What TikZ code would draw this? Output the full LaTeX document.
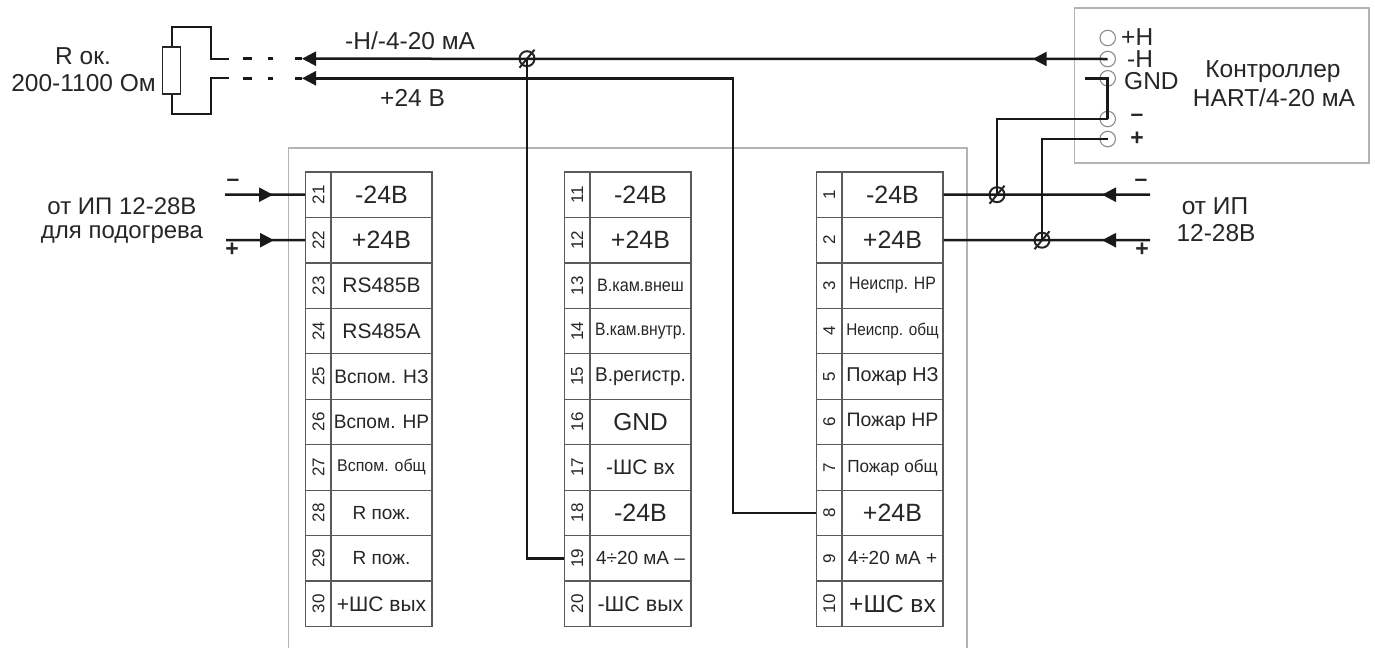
\documentclass[tikz,border=0pt]{standalone}
\usepackage{graphicx}
\usepackage{fontspec}
\setmainfont{Liberation Sans}
\usetikzlibrary{arrows.meta,decorations.markings,calc}
\definecolor{ink}{HTML}{262626}
\definecolor{cellline}{HTML}{5A5A5A}
\definecolor{boxline}{HTML}{B4B4B4}
\definecolor{termline}{HTML}{8C8C8C}
\newcommand{\sz}[1]{\fontsize{#1}{#1}\selectfont}
\tikzset{
  numcell/.style={draw=cellline,line width=1.2,minimum width=25.5,minimum height=45.45,inner sep=0,text=ink},
  labcell/.style={draw=cellline,line width=1.2,minimum width=101,minimum height=45.45,inner sep=0,text=ink},
  wire/.style={line width=2.5,black!90},
  tipend/.style={-{Triangle[length=14,width=14]}},
  midarrow/.style={postaction={decorate},decoration={markings,mark=at position #1 with {\arrow{Triangle[length=14,width=14]}}}},
  terminal/.style={circle,draw=termline,line width=1.1,minimum size=15.5,inner sep=0},
  junction/.style={circle,draw=ink,line width=2,minimum size=15,inner sep=0},
  slash/.style={line width=2,ink},
  grayframe/.style={draw=boxline,line width=1.3},
  txt/.style={text=ink,inner sep=0,align=center},
}
\begin{document}
\begin{tikzpicture}[x=1pt,y=-1pt]
\useasboundingbox (0,0) rectangle (1375,648);
% frames
\draw[grayframe] (288.3,648) -- (288.3,148) -- (967,148) -- (967,648);
\fill[white] (1074.3,8) rectangle (1369,163);
\node[grayframe,minimum width=294.7,minimum height=155,inner sep=0] (ctrl) at (1221.6,85.5) {};
% terminal blocks
\foreach \n/\s/\h/\t [count=\i] in {
 21/25/1/{-24В},22/25/1/{+24В},23/21/1/{RS485B},24/21/1/{RS485A},25/19.5/.98/{Вспом. НЗ},
 26/19.5/.98/{Вспом. НР},27/17/.94/{Вспом. общ},28/19/1/{R пож.},29/19/1/{R пож.},30/21/1/{+ШС вых}}{
  \node[numcell] (n\n) at (318.4,{172+45.45*(\i-.5)}) {\sz{17}\rotatebox{90}{\n}};
  \node[labcell] (l\n) at (381.5,{172+45.45*(\i-.5)}) {\sz{\s}\scalebox{\h}[1]{\t}};
}
\foreach \n/\s/\h/\t [count=\i] in {
 11/25/1/{-24В},12/25/1/{+24В},13/18/.9/{В.кам.внеш},14/18/.87/{В.кам.внутр.},15/20/.95/{В.регистр.},
 16/24.5/1/{GND},17/21/1/{-ШС вх},18/25/1/{-24В},19/19/1/{4÷20 мА –},20/21.5/1/{-ШС вых}}{
  \node[numcell] (n\n) at (577.2,{172+45.45*(\i-.5)}) {\sz{17}\rotatebox{90}{\n}};
  \node[labcell] (l\n) at (640.5,{172+45.45*(\i-.5)}) {\sz{\s}\scalebox{\h}[1]{\t}};
}
\foreach \n/\s/\h/\t [count=\i] in {
 1/25/1/{-24В},2/25/1/{+24В},3/18/.88/{Неиспр. НР},4/17/.9/{Неиспр. общ},5/20/.99/{Пожар НЗ},
 6/19.5/1/{Пожар НР},7/17.5/.98/{Пожар общ},8/25/1/{+24В},9/19/1/{4÷20 мА +},10/24.5/1/{+ШС вх}}{
  \node[numcell] (n\n) at (829.2,{172+45.45*(\i-.5)}) {\sz{17}\rotatebox{90}{\n}};
  \node[labcell] (l\n) at (892.5,{172+45.45*(\i-.5)}) {\sz{\s}\scalebox{\h}[1]{\t}};
}
% resistor
\node[draw=ink,line width=1.9,minimum width=18,minimum height=47,inner sep=0] (res) at (171.5,70.5) {};
% terminals
\node[terminal] (c1) at (1107.7,38) {};
\node[terminal] (c2) at (1107.7,59) {};
\node[terminal] (c3) at (1107.7,78.3) {};
\node[terminal] (c4) at (1107.7,119) {};
\node[terminal] (c5) at (1107.7,139) {};
% junctions
\node[junction] (j1) at (527,58.7) {};
\node[junction] (j2) at (997,194.7) {};
\node[junction] (j3) at (1042,240.2) {};
\foreach \j in {j1,j2,j3}{
  \draw[slash] ([shift={(-7.5,9)}]\j.center) -- ([shift={(7.5,-9)}]\j.center);
}
% free ends
\coordinate (rt) at (211,27);
\coordinate (rb) at (211,114);
\coordinate (sa) at (228.5,58.7);
\coordinate (sb) at (228.5,78.3);
\coordinate (ta) at (302,58.7);
\coordinate (tb) at (302,78.3);
\coordinate (bend) at (733,78.3);
\coordinate (gnd) at (1085,78.3);
\coordinate (ra) at (1150,194.7);
\coordinate (rc) at (1150,240.2);
\coordinate (la) at (225,194.7);
\coordinate (lc) at (226,240.2);
% wires
\draw[wire,line width=2] (res.north) |- (rt) |- (sa);
\draw[wire,line width=2] (res.south) |- (rb) |- (sb);
\draw[wire,dash pattern=on 0pt off 14.5pt on 9pt off 16pt on 5pt off 22pt on 8pt] (sa) -- (ta);
\draw[wire,dash pattern=on 0pt off 14.5pt on 9pt off 16pt on 5pt off 22pt on 8pt] (sb) -- (tb);
\draw[wire,tipend,midarrow=75pt] (c2.center) -- (ta);
\draw[wire,tipend] (n8.west) -| (bend) -- (tb);
\draw[wire] (n19.west) -| (j1.center);
\draw[wire] (gnd) -- (c3.center) -- (c4.center);
\draw[wire] (j2.center) |- (c4.center);
\draw[wire] (j3.center) |- (c5.center);
\draw[wire,midarrow=48pt] (ra) -- (l1.east);
\draw[wire,midarrow=48pt] (rc) -- (l2.east);
\draw[wire,midarrow=48pt] (la) -- (n21.west);
\draw[wire,midarrow=48pt] (lc) -- (n22.west);
% labels
\node[txt,font=\sz{24.5}] (tr1) at (83,56) {R ок.};
\node[txt,font=\sz{24.5},anchor=east] (tr2) at (156,83) {200-1100 Ом};
\node[txt,font=\sz{24.5},anchor=west] (tw1) at (345,41) {-Н/-4-20 мА};
\node[txt,font=\sz{24.5},anchor=west] (tw2) at (380,98) {+24 В};
\node[txt,font=\sz{24}] (tl1) at (122,206) {от ИП 12-28В};
\node[txt,font=\sz{24}] (tl2) at (122,235) {для подогрева};
\node[txt,font=\sz{24.5}] (tp1) at (1215,206) {от ИП};
\node[txt,font=\sz{24.5}] (tp2) at (1216,233) {12-28В};
\node[txt,font=\sz{24.5}] (tc1) at (1273,72) {Контроллер};
\node[txt,font=\sz{24.5}] (tc2) at (1274,98) {HART/4-20 мА};
\node[txt,font=\sz{24.5},anchor=west] (th1) at (1121,37) {+Н};
\node[txt,font=\sz{24.5},anchor=west] (th2) at (1127,59) {-Н};
\node[txt,font=\sz{24.5},anchor=west] (th3) at (1124,81) {GND};
\node[txt,font=\sz{23}\bfseries] (tm1) at (1137,118) {–};
\node[txt,font=\sz{23}\bfseries] (tm2) at (1137,139) {+};
\node[txt,font=\sz{23}\bfseries] (tm3) at (1141,183) {–};
\node[txt,font=\sz{23}\bfseries] (tm4) at (1142,250) {+};
\node[txt,font=\sz{23}\bfseries] (tm5) at (233,183) {–};
\node[txt,font=\sz{23}\bfseries] (tm6) at (232,250) {+};
\end{tikzpicture}
\end{document}
